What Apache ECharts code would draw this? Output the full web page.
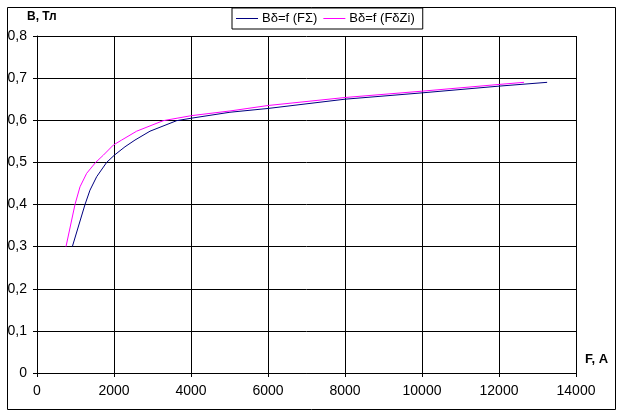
<!DOCTYPE html>
<html lang="ru">
<head>
    <meta charset="utf-8"/>
    <title>B(F)</title>
    <script src="https://cdn.jsdelivr.net/npm/echarts@6/dist/echarts.min.js"></script>
</head>
<body style="margin:0;background:#fff">
<div id="chart" style="width:619px;height:412px"></div>
<script type="text/javascript">
    // данные
    var seriesNames = ['Bδ=f (FΣ)', 'Bδ=f (FδZi)'];
    var fSum = [918, 1247, 1376, 1550, 1810, 2008, 2285, 2545, 2935, 3628, 4017, 5012, 6000, 8000, 10000, 12000, 13250];
    var bSum = [0.30, 0.40, 0.434, 0.466, 0.50, 0.517, 0.537, 0.553, 0.574, 0.599, 0.605, 0.619, 0.628, 0.650, 0.665, 0.681, 0.690];
    var fZi = [753, 987, 1117, 1290, 1524, 1722, 1982, 2199, 2588, 3280, 4017, 5012, 6000, 8000, 10000, 12000, 12650];
    var bZi = [0.30, 0.40, 0.442, 0.474, 0.50, 0.517, 0.541, 0.553, 0.574, 0.599, 0.611, 0.622, 0.635, 0.654, 0.669, 0.685, 0.690];

    function pairs(xs, ys) {
        var out = [];
        for (var i = 0; i < xs.length; i++) {
            out.push([xs[i], ys[i]]);
        }
        return out;
    }

    var font = 'Liberation Sans, Arial, sans-serif';
    var myChart = echarts.init(document.getElementById('chart'));
    var option = {
        animation: false,
        backgroundColor: '#fff',
        textStyle: {fontFamily: font},
        grid: {left: 37, top: 36, width: 539, height: 337},
        legend: {
            left: 232, top: 8,
            padding: [4, 8, 4, 4],
            itemGap: 6,
            itemWidth: 22,
            itemHeight: 1,
            icon: 'rect',
            borderColor: '#000', borderWidth: 1,
            textStyle: {fontFamily: font, fontSize: 13, color: '#000', padding: [0, 0, 0, -1]},
            data: seriesNames
        },
        //x轴
        xAxis: {
            type: 'value', min: 0, max: 14000, interval: 2000,
            axisLine: {lineStyle: {color: '#000', width: 1}},
            axisTick: {show: true, length: 4, lineStyle: {color: '#000'}},
            axisLabel: {
                color: '#000', fontSize: 14, fontFamily: font, margin: 11,
                formatter: function (v) { return String(v); }
            },
            splitLine: {lineStyle: {color: '#000', width: 1}}
        },
        //y轴
        yAxis: {
            type: 'value', min: 0, max: 0.8, interval: 0.1,
            axisLine: {show: true, lineStyle: {color: '#000', width: 1}},
            axisTick: {show: true, length: 4, lineStyle: {color: '#000'}},
            axisLabel: {
                color: '#000', fontSize: 14, fontFamily: font, margin: 10,
                formatter: function (v) { return (Math.round(v * 10) / 10).toString().replace('.', ','); }
            },
            splitLine: {lineStyle: {color: '#000', width: 1}}
        },
        graphic: [
            {type: 'rect', left: 5, top: 5, shape: {width: 608, height: 402},
                style: {fill: 'none', stroke: '#000', lineWidth: 1}, silent: true},
            {type: 'text', left: 27, top: 11,
                style: {text: 'B, Тл', font: 'bold 12px ' + font, fill: '#000'}},
            {type: 'text', left: 585, top: 353,
                style: {text: 'F, A', font: 'bold 13px ' + font, fill: '#000'}}
        ],
        series: [{
            name: seriesNames[0],
            type: 'line',
            symbol: 'none',
            data: pairs(fSum, bSum),
            lineStyle: {color: '#000080', width: 1},
            itemStyle: {color: '#000080'}
        }, {
            name: seriesNames[1],
            type: 'line',
            symbol: 'none',
            data: pairs(fZi, bZi),
            lineStyle: {color: '#ff00ff', width: 1},
            itemStyle: {color: '#ff00ff'}
        }]
    };
    myChart.setOption(option);
</script>
</body>
</html>
